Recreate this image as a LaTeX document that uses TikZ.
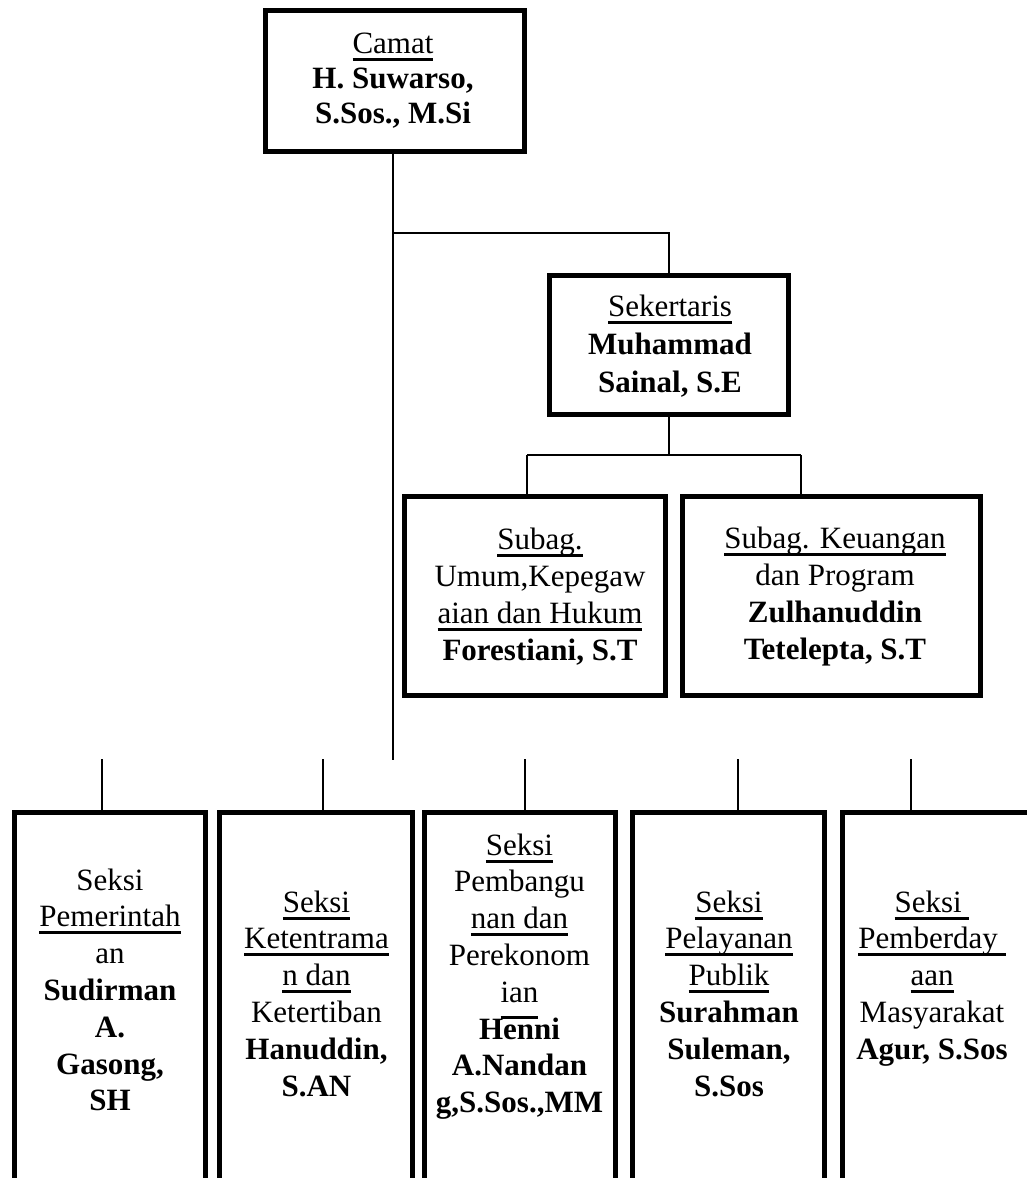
\documentclass[tikz,border=0pt]{standalone}
\usepackage{fontspec}
\setmainfont{Liberation Serif}
\newcommand{\uln}[1]{\setbox0=\hbox{#1}\rlap{\smash{\rule[-7.5pt]{\wd0}{3pt}}}\box0}
\newcommand{\ulnlow}[1]{\setbox0=\hbox{#1}\rlap{\smash{\rule[-16.5pt]{\wd0}{3pt}}}\box0}
\tikzset{
  box/.style={draw, line width=5pt, inner sep=0pt, rectangle},
  lbl/.style={anchor=north, align=center, inner sep=0pt, font=\fontsize{31pt}{36.8pt}\selectfont},
  conn/.style={line width=1.8pt}
}
\begin{document}
\begin{tikzpicture}[x=1pt,y=-1pt]
\useasboundingbox (0,0) rectangle (1027,1178);
\clip (0,0) rectangle (1027,1178);
\fill[white] (0,0) rectangle (1027,1178);

% boxes
\node[box, minimum width=259pt, minimum height=141pt] (camat) at (395,81) {};
\node[box, minimum width=239pt, minimum height=139pt] (sek) at (669,345) {};
\node[box, minimum width=261pt, minimum height=199pt] (umum) at (535,596) {};
\node[box, minimum width=298pt, minimum height=199pt] (keu) at (831.5,596) {};
\node[box, minimum width=191pt, minimum height=390pt] (b1) at (110,1007.5) {};
\node[box, minimum width=193pt, minimum height=390pt] (b2) at (316,1007.5) {};
\node[box, minimum width=191pt, minimum height=390pt] (b3) at (520,1007.5) {};
\node[box, minimum width=192pt, minimum height=390pt] (b4) at (728.5,1007.5) {};
\node[box, minimum width=191pt, minimum height=390pt] (b5) at (938,1007.5) {};

% texts
\node[lbl, font=\fontsize{31pt}{35pt}\selectfont] (tcamat) at (393,28.5)
  {\strut\uln{Camat}\\ \textbf{H. Suwarso,}\\ \textbf{S.Sos., M.Si}};
\node[lbl, font=\fontsize{31pt}{38pt}\selectfont] (tsek) at (670,289.4)
  {\strut\uln{Sekertaris}\\ \textbf{Muhammad}\\ \textbf{Sainal, S.E}};
\node[lbl, font=\fontsize{31pt}{37pt}\selectfont] (tumum) at (540,523.1)
  {\strut\uln{Subag.}\\ Umum,Kepegaw\\ \uln{aian dan Hukum}\\ \textbf{Forestiani, S.T}};
\node[lbl, font=\fontsize{31pt}{37pt}\selectfont] (tkeu) at (835,522.1)
  {\strut\uln{Subag. Keuangan}\\ dan Program\\ \textbf{Zulhanuddin}\\ \textbf{Tetelepta, S.T}};
\node[lbl] (t1) at (110,864.2)
  {\strut Seksi\\ \uln{Pemerintah}\\ an\\ \textbf{Sudirman}\\ \textbf{A.}\\ \textbf{Gasong,}\\ \textbf{SH}};
\node[lbl] (t2) at (316.5,886.2)
  {\strut\uln{Seksi}\\ \uln{Ketentrama}\\ \uln{n dan}\\ Ketertiban\\ \textbf{Hanuddin,}\\ \textbf{S.AN}};
\node[lbl] (t3) at (519.5,829.2)
  {\strut\uln{Seksi}\\ Pembangu\\ \uln{nan dan}\\ Perekonom\\ \ulnlow{ian}\\ \textbf{Henni}\\ \textbf{A.Nandan}\\ \textbf{g,S.Sos.,MM}};
\node[lbl] (t4) at (729,886.2)
  {\strut\uln{Seksi}\\ \uln{Pelayanan}\\ \uln{Publik}\\ \textbf{Surahman}\\ \textbf{Suleman,}\\ \textbf{S.Sos}};
\node[lbl] (t5) at (932,886.2)
  {\strut\uln{Seksi\ }\\ \uln{Pemberday\ }\\ \uln{aan}\\ Masyarakat\\ \textbf{Agur, S.Sos}};

% connectors
\coordinate (mainend) at (393,760);
\coordinate (sekbranch) at (393,233);
\coordinate (busL) at (527,455);
\coordinate (busR) at (801,455);
\coordinate (s1) at (102,759);
\coordinate (s2) at (323,759);
\coordinate (s3) at (525,759);
\coordinate (s4) at (738,759);
\coordinate (s5) at (911,759);

\draw[conn] (mainend |- camat.south) -- (mainend);
\draw[conn] (sekbranch) -| (sek.north);
\draw[conn] (sek.south) -- (sek.south |- busL);
\draw[conn] (busL) -- (busR);
\draw[conn] (busL) -- (busL |- umum.north);
\draw[conn] (busR) -- (busR |- keu.north);
\draw[conn] (s1) -- (s1 |- b1.north);
\draw[conn] (s2) -- (s2 |- b2.north);
\draw[conn] (s3) -- (s3 |- b3.north);
\draw[conn] (s4) -- (s4 |- b4.north);
\draw[conn] (s5) -- (s5 |- b5.north);
\end{tikzpicture}
\end{document}
